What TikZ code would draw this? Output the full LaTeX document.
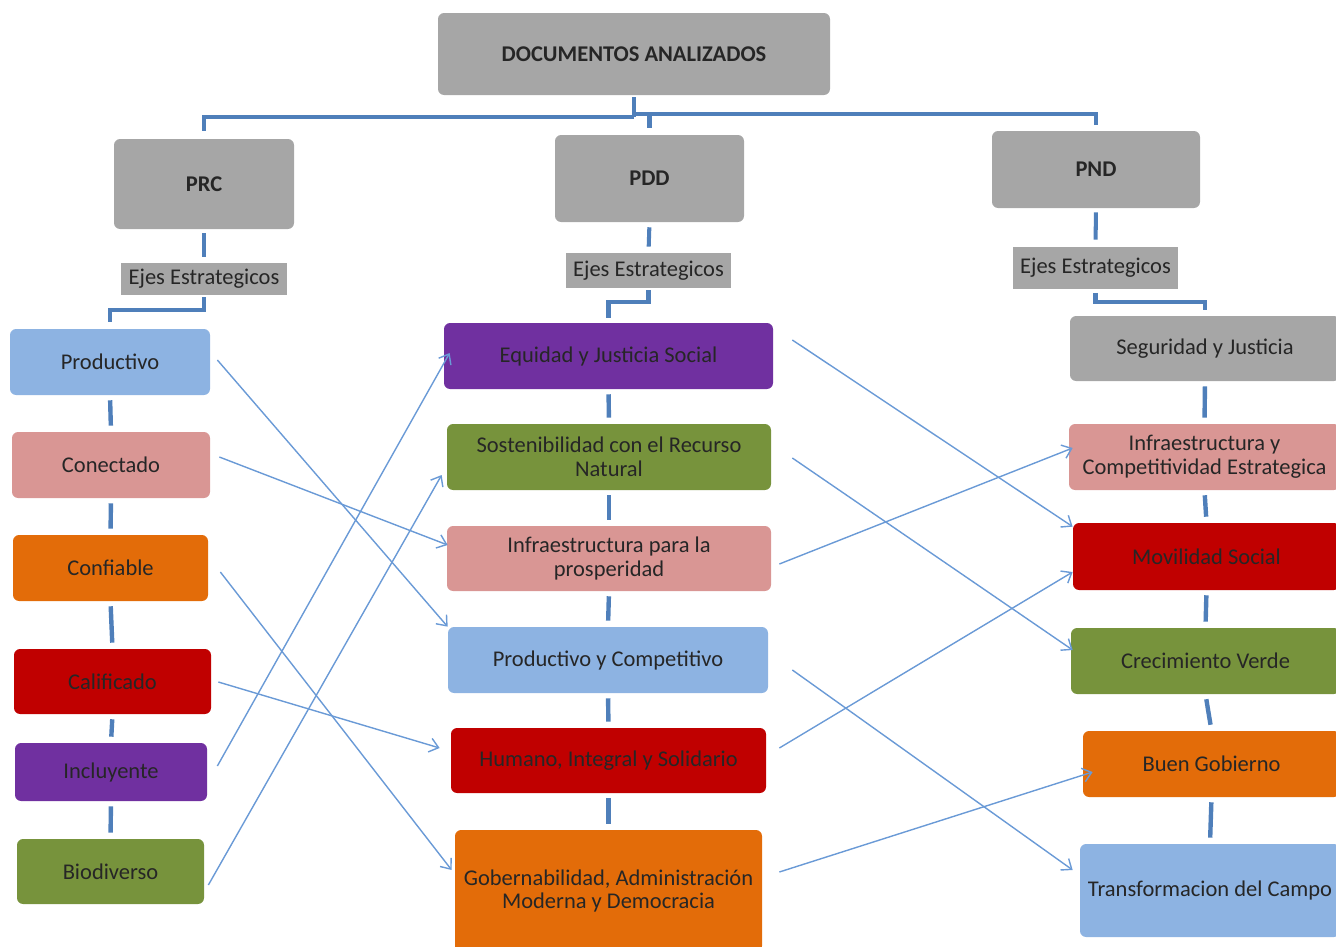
\documentclass[tikz,border=0pt]{standalone}
\usepackage{fontspec}
\setmainfont{Carlito}
\usetikzlibrary{arrows.meta,calc}
\definecolor{cgray}{HTML}{A6A6A6}
\definecolor{clblue}{HTML}{8DB3E2}
\definecolor{cpink}{HTML}{D99694}
\definecolor{corange}{HTML}{E36C09}
\definecolor{cred}{HTML}{C00000}
\definecolor{cpurple}{HTML}{7030A0}
\definecolor{cgreen}{HTML}{77933C}
\definecolor{ctrunk}{HTML}{4F7FBA}
\definecolor{carrow}{HTML}{6A9AD6}
\newcommand\mkbox[7]{\node[bx,fill=#6,minimum width={0.02cm*(#4-#2)},minimum height={0.02cm*(#5-#3)}] (#1) at ({(#2+#4)/2},{(#3+#5)/2}) {#7};}
\newcommand\mkejes[5]{\node[bx,rounded corners=0pt,fill=cgray,minimum width={0.02cm*(#4-#2)},minimum height={0.02cm*(#5-#3)}] (#1) at ({(#2+#4)/2},{(#3+#5)/2}) {Ejes Estrategicos};}
\begin{document}
\begin{tikzpicture}[x=0.02cm,y=-0.02cm,
  bx/.style={rounded corners=3.5pt, inner sep=0pt, align=center, text=black!85, font=\fontsize{12.8}{13.5}\selectfont},
  trunk/.style={draw=ctrunk, line width=2.3pt},
  sepline/.style={draw=ctrunk, line width=2.5pt},
  arw/.style={draw=carrow, line width=0.8pt, -{Straight Barb[length=5pt,width=8pt]}}]
\useasboundingbox (0,0) rectangle (1336,947);
% top level
\mkbox{doc}{438}{13}{830}{95}{cgray}{\textbf{DOCUMENTOS ANALIZADOS}}
\mkbox{prc}{114}{139}{294}{229}{cgray}{\textbf{PRC}}
\mkbox{pdd}{555}{135}{744}{222}{cgray}{\textbf{PDD}}
\mkbox{pnd}{992}{131}{1200}{208}{cgray}{\textbf{PND}}
\mkejes{ejes1}{121}{263}{287}{295}
\mkejes{ejes2}{566}{253}{731}{288}
\mkejes{ejes3}{1013}{247}{1178}{289}
% left column
\mkbox{prod}{10}{329}{210}{395}{clblue}{Productivo}
\mkbox{conec}{12}{432}{210}{498}{cpink}{Conectado}
\mkbox{conf}{13}{535}{208}{601}{corange}{Confiable}
\mkbox{calif}{14}{649}{211}{714}{cred}{Calificado}
\mkbox{incl}{15}{743}{207}{801}{cpurple}{Incluyente}
\mkbox{bio}{17}{839}{204}{904}{cgreen}{Biodiverso}
% middle column
\mkbox{equi}{444}{323}{773}{389}{cpurple}{Equidad y Justicia Social}
\mkbox{sost}{447}{424}{771}{490}{cgreen}{Sostenibilidad con el Recurso\\Natural}
\mkbox{infra}{447}{526}{771}{591}{cpink}{Infraestructura para la\\prosperidad}
\mkbox{pyc}{448}{627}{768}{693}{clblue}{Productivo y Competitivo}
\mkbox{hum}{451}{728}{766}{793}{cred}{Humano, Integral y Solidario}
\mkbox{gob}{455}{830}{762}{952}{corange}{Gobernabilidad, Administración\\Moderna y Democracia}
% right column
\mkbox{segu}{1070}{316}{1340}{381}{cgray}{Seguridad y Justicia}
\mkbox{infc}{1069}{424}{1340}{490}{cpink}{Infraestructura y\\Competitividad Estrategica}
\mkbox{movil}{1073}{523}{1340}{590}{cred}{Movilidad Social}
\mkbox{crec}{1071}{628}{1340}{694}{cgreen}{Crecimiento Verde}
\mkbox{buen}{1083}{731}{1340}{797}{corange}{Buen Gobierno}
\mkbox{trans}{1080}{844}{1340}{937}{clblue}{Transformacion del Campo}
% trunk connectors
\coordinate (hubL) at ($(doc.south)+(0,22)$);
\coordinate (hubR) at ($(doc.south)+(0,19)$);
\draw[trunk, shorten <=1pt] (doc.south) -- (hubL);
\draw[trunk, shorten >=4.5pt] (hubL) -| (prc.north);
\draw[trunk, shorten >=3.4pt] (hubR) -| (pnd.north);
\draw[trunk, shorten >=3.8pt] (pdd.north |- hubR) -- (pdd.north);
\draw[trunk, shorten <=2.3pt, shorten >=3.4pt] (prc.south) -- (ejes1.north);
\draw[trunk, shorten <=2.8pt, shorten >=3.4pt] (pdd.south) -- (ejes2.north);
\draw[trunk, shorten <=2.3pt, shorten >=4pt] (pnd.south) -- (ejes3.north);
\draw[trunk, shorten <=1pt, shorten >=4pt] (ejes1.south) -- ++(0,15) -| (prod.north);
\draw[trunk, shorten <=1pt, shorten >=2.8pt] (ejes2.south) -- ++(0,14) -| (equi.north);
\draw[trunk, shorten <=2pt, shorten >=3.4pt] (ejes3.south) -- ++(0,13) -| (segu.north);
% separators
\foreach \a/\b in {prod/conec,conec/conf,conf/calif,calif/incl,incl/bio,
  equi/sost,sost/infra,infra/pyc,pyc/hum,hum/gob,
  segu/infc,infc/movil,movil/crec,crec/buen,buen/trans}
  \draw[sepline, shorten <=2.8pt, shorten >=3.4pt] (\a.south) -- (\b.north);
% arrows left -> middle
\draw[arw] ($(prod.east)+(7,-2)$) -- (pyc.north west);
\draw[arw] ($(conec.east)+(9,-8)$) -- ($(infra.west)+(1,-13.5)$);
\draw[arw] ($(conf.east)+(12,4)$) -- ($(gob.west)+(-3,-21)$);
\draw[arw] ($(calif.east)+(7,0.5)$) -- ($(hum.west)+(-11,-12.5)$);
\draw[arw] ($(incl.east)+(10,-6)$) -- ($(equi.west)+(6,-3)$);
\draw[arw] ($(bio.east)+(4,13.5)$) -- ($(sost.west)+(-5,18)$);
% arrows middle -> right
\draw[arw] ($(equi.east)+(19,-16)$) -- ($(movil.north west)+(0,4)$);
\draw[arw] ($(sost.east)+(21,1)$) -- ($(crec.west)+(2,-11)$);
\draw[arw] ($(infra.east)+(8,5.5)$) -- ($(infc.west)+(4,-9)$);
\draw[arw] ($(pyc.east)+(24,10)$) -- ($(trans.west)+(-7,-20.5)$);
\draw[arw] ($(hum.east)+(13,-12.5)$) -- ($(movil.west)+(0,15.5)$);
\draw[arw] ($(gob.east)+(17,-19)$) -- ($(buen.west)+(10,8)$);
\end{tikzpicture}
\end{document}
